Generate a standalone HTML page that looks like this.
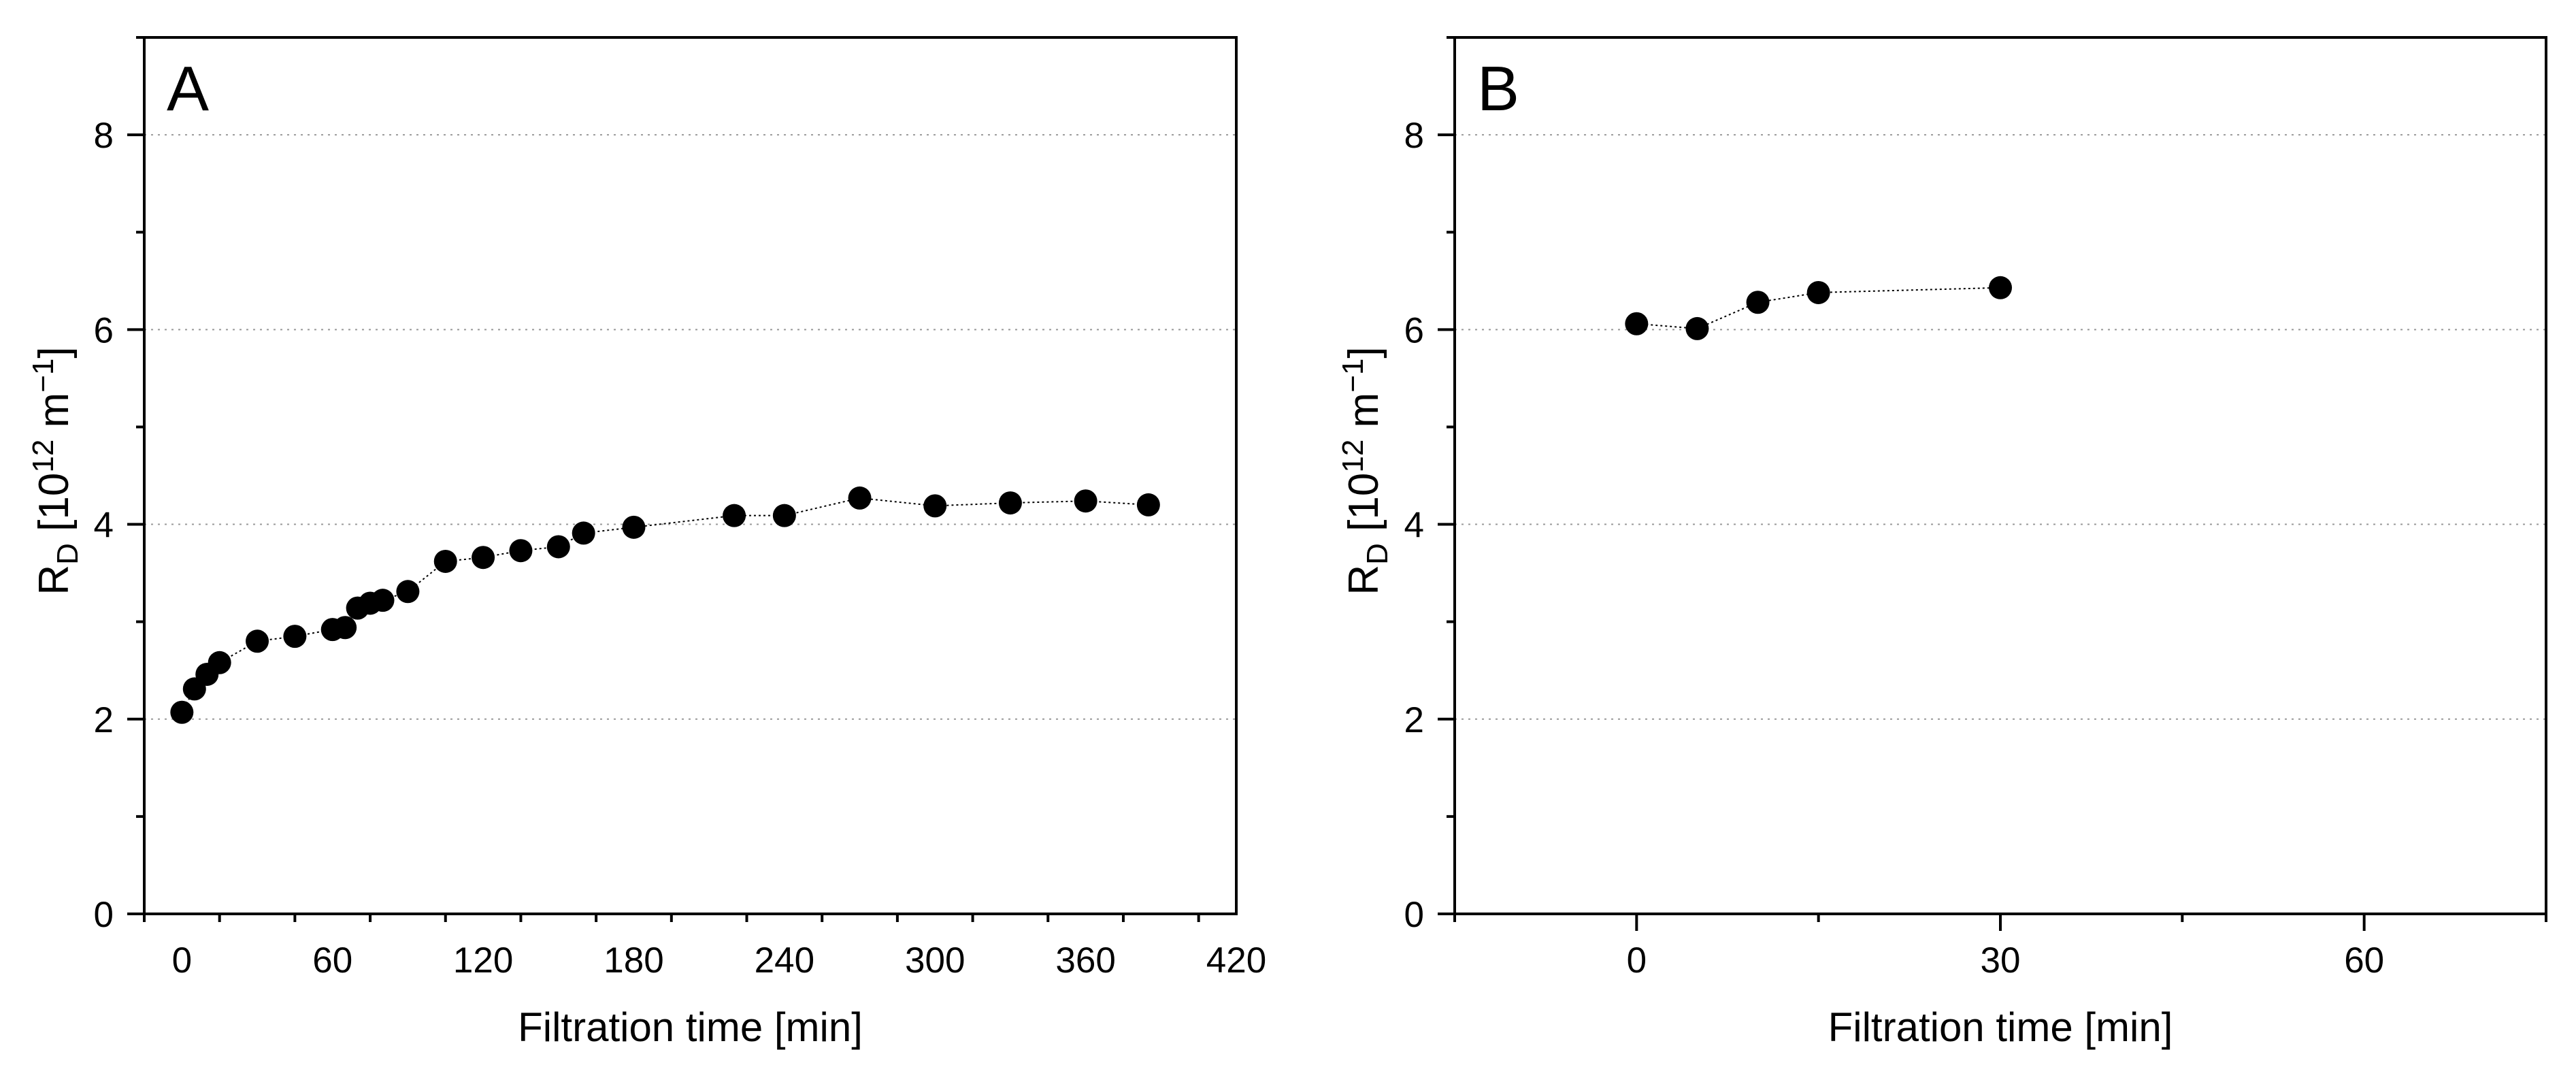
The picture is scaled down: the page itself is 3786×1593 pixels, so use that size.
<!DOCTYPE html>
<html><head><meta charset="utf-8"><style>
html,body{margin:0;padding:0;background:#fff;}
svg{display:block;font-family:"Liberation Sans",Arial,sans-serif;}
</style></head><body>
<svg id="chart" width="3786" height="1593" viewBox="0 0 3786 1593" xmlns="http://www.w3.org/2000/svg"></svg>
<script>
const timeA = [0,5,10,15,30,45,60,65,70,75,80,90,105,120,135,150,160,180,220,240,270,300,330,360,385];
const rdA = [2.07,2.31,2.46,2.58,2.80,2.85,2.92,2.94,3.14,3.19,3.22,3.31,3.62,3.66,3.73,3.77,3.91,3.97,4.09,4.09,4.27,4.19,4.22,4.24,4.20];
const timeB = [0,5,10,15,30];
const rdB = [6.06,6.01,6.28,6.38,6.43];
const xTicksA = [0,60,120,180,240,300,360,420];
const xTicksB = [0,30,60];
const yTicks = [0,2,4,6,8];

const NS='http://www.w3.org/2000/svg';
const svg=document.getElementById('chart');
function mk(tag,attrs,parent){const e=document.createElementNS(NS,tag);for(const k in attrs)e.setAttribute(k,attrs[k]);(parent||svg).appendChild(e);return e;}

function panel(cfg){
  const g=mk('g',{});
  
  
  const L=cfg.left,R=cfg.right,T=55,B=1343;
  const xs=v=>L+(v-cfg.xmin)/(cfg.xmax-cfg.xmin)*(R-L);
  const ys=v=>B-(v-0)/(9-0)*(B-T);
  yTicks.forEach(t=>{ if(t===0)return;
    const gl=mk('line',{x1:L,x2:R,y1:ys(t),y2:ys(t),stroke:'#999','stroke-width':2,'stroke-dasharray':'3 7'},g);
    
    
  });
  const fr=mk('rect',{x:L,y:T,width:R-L,height:B-T,fill:'none',stroke:'#000','stroke-width':4},g);
  
  
  for(let v=0;v<=9;v++){
    const major=v%2===0;
    mk('line',{x1:L-(major?25:12),x2:L,y1:ys(v),y2:ys(v),stroke:'#000','stroke-width':4},g);
    if(major&&v<=8){
      const t=mk('text',{x:L-45,y:ys(v)+19,'text-anchor':'end','font-size':53,fill:'#000'},g);
      t.textContent=v;
      
      
    }
  }
  for(let v=cfg.xmin;v<=cfg.xmax+0.01;v+=cfg.minor){
    const major=cfg.xticks.includes(v);
    mk('line',{x1:xs(v),x2:xs(v),y1:B,y2:B+(major?25:12),stroke:'#000','stroke-width':4},g);
  }
  cfg.xticks.forEach(v=>{
    const t=mk('text',{x:xs(v),y:1429,'text-anchor':'middle','font-size':53,fill:'#000'},g);
    t.textContent=v;
    
    
  });
  const xt=mk('text',{x:(L+R)/2,y:1530,'text-anchor':'middle','font-size':60,fill:'#000'},g);
  xt.textContent='Filtration time [min]';
  
  
  const yt=mk('text',{x:0,y:0,'text-anchor':'middle','font-size':62,fill:'#000',transform:`translate(${cfg.ytx},692) rotate(-90)`},g);
  yt.innerHTML='R<tspan font-size="44" dy="14">D</tspan><tspan dy="-14"> [10</tspan><tspan font-size="44" dy="-22">12</tspan><tspan dy="22"> m</tspan><tspan font-size="44" dy="-22">−1</tspan><tspan dy="22">]</tspan>';
  
  
  const pl=mk('text',{x:L+33,y:162,'font-size':93,fill:'#000'},g);
  pl.textContent=cfg.label;
  
  
  const pts=cfg.xs.map((x,i)=>xs(x)+','+ys(cfg.ys[i])).join(' ');
  const line=mk('polyline',{points:pts,fill:'none',stroke:'#000','stroke-width':2,'stroke-dasharray':'3 4'},g);
  
  
  cfg.xs.forEach((x,i)=>{
    const c=mk('circle',{cx:xs(x),cy:ys(cfg.ys[i]),r:17,fill:'#000'},g);
    
    
  });
}
panel({name:'panel-a',label:'A',left:212,right:1817,xmin:-15,xmax:420,minor:30,xticks:xTicksA,xs:timeA,ys:rdA,ytx:100});
panel({name:'panel-b',label:'B',left:2138,right:3742,xmin:-15,xmax:75,minor:15,xticks:xTicksB,xs:timeB,ys:rdB,ytx:2025});
</script>
</body></html>
